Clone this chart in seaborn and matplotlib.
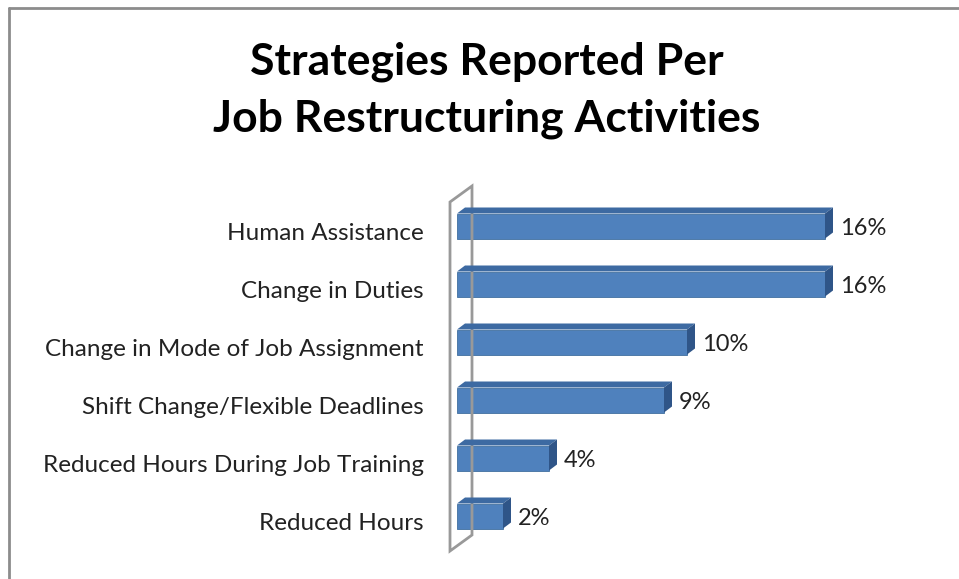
import matplotlib
matplotlib.use("Agg")
import matplotlib.pyplot as plt
import matplotlib.transforms as mtrans
import seaborn as sns
import pandas as pd
from matplotlib.patches import Polygon
from matplotlib.lines import Line2D

categories = ["Human Assistance", "Change in Duties", "Change in Mode of Job Assignment",
              "Shift Change/Flexible Deadlines", "Reduced Hours During Job Training", "Reduced Hours"]
values = [16, 16, 10, 9, 4, 2]
value_labels = ["16%", "16%", "10%", "9%", "4%", "2%"]
title_lines = ["Strategies Reported Per", "Job Restructuring Activities"]

sns.set_theme(style="white")
plt.rcParams['font.family'] = ['Lato', 'DejaVu Sans']

W, H = 959, 579
fig = plt.figure(figsize=(W / 100, H / 100), dpi=100)

# axes geometry (pixels)
x0_px, px_per = 457, 23.0
ax_right = 900
y0_px, step = 226, 58
top_px = y0_px - step / 2
bot_px = y0_px + step * 5.5
ax = fig.add_axes([x0_px / W, 1 - bot_px / H, (ax_right - x0_px) / W, (bot_px - top_px) / H])

df = pd.DataFrame({"cat": categories, "val": values})
front = "#4F81BD"
top_c = "#3D6AA2"
side_c = "#2F5588"
bw = 25 / 58
sns.barplot(data=df, y="cat", x="val", orient="h", color=front, saturation=1,
            width=bw, ax=ax, edgecolor="#41709F", linewidth=0.6)
ax.set_xlim(0, (ax_right - x0_px) / px_per)
ax.set_ylim(5.5, -0.5)

dx = 8 / px_per
dy = 6 / step
for i, v in enumerate(values):
    yt = i - bw / 2
    yb = i + bw / 2
    ax.add_patch(Polygon([(0, yt), (v, yt), (v + dx, yt - dy), (dx, yt - dy)],
                         closed=True, facecolor=top_c, edgecolor="none", clip_on=False, zorder=3))
    ax.add_patch(Polygon([(v, yt), (v + dx, yt - dy), (v + dx, yb - dy), (v, yb)],
                         closed=True, facecolor=side_c, edgecolor="none", clip_on=False, zorder=3))
    ax.text(v + dx + 0.3, i + 0.04, value_labels[i], va="center", ha="left",
            fontsize=17, color="#222222")

# back wall
wl = (450 - x0_px) / px_per
wr = (472 - x0_px) / px_per
ax.add_patch(Polygon([(wl, (551 - y0_px) / step), (wl, (202 - y0_px) / step),
                      (wr, (186 - y0_px) / step), (wr, (535 - y0_px) / step)],
                     closed=True, facecolor="none", edgecolor="#999999", linewidth=2,
                     clip_on=False, zorder=1))

ax.set_xlabel("")
ax.set_ylabel("")
ax.set_xticks([])
for s in ax.spines.values():
    s.set_visible(False)
ax.tick_params(axis="y", length=0, pad=24, labelsize=17.5, labelcolor="#222222")
shift = mtrans.ScaledTranslation(0, -6 / 100, fig.dpi_scale_trans)
for lab in ax.get_yticklabels():
    lab.set_transform(lab.get_transform() + shift)

# title
fig.text(487 / W, 1 - 62 / H, title_lines[0], ha="center", va="center",
         fontsize=32, fontweight="bold", color="black")
fig.text(487 / W, 1 - 119 / H, title_lines[1], ha="center", va="center",
         fontsize=32, fontweight="bold", color="black")

# chart border (top and left visible)
fig.add_artist(Line2D([9 / W, 1], [1 - 8 / H, 1 - 8 / H], color="#8C8C8C", linewidth=2,
                      transform=fig.transFigure))
fig.add_artist(Line2D([9 / W, 9 / W], [0, 1 - 8 / H], color="#8C8C8C", linewidth=2,
                      transform=fig.transFigure))

fig.savefig("out.png", dpi=100, facecolor="white")
